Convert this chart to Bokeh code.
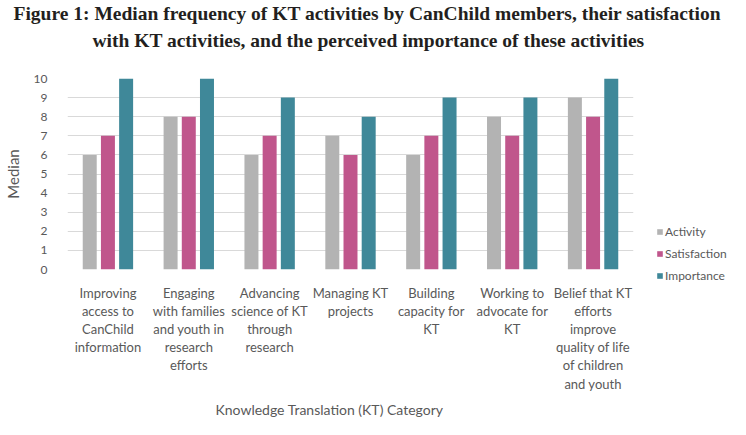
from bokeh.plotting import figure
from bokeh.models import ColumnDataSource, FixedTicker, Legend, LegendItem, Title, Range1d
from bokeh.transform import dodge
from bokeh.embed import file_html
from bokeh.resources import INLINE

title_lines = [
    "Figure 1: Median frequency of KT activities by CanChild members, their satisfaction",
    "with KT activities, and the perceived importance of these activities",
]
x_title = "Knowledge Translation (KT) Category"
y_title = "Median"
categories = [
    "Improving\naccess to\nCanChild\ninformation",
    "Engaging\nwith families\nand youth in\nresearch\nefforts",
    "Advancing\nscience of KT\nthrough\nresearch",
    "Managing KT\nprojects",
    "Building\ncapacity for\nKT",
    "Working to\nadvocate for\nKT",
    "Belief that KT\nefforts\nimprove\nquality of life\nof children\nand youth",
]
activity = [6, 8, 6, 7, 6, 8, 9]
satisfaction = [7, 8, 7, 6, 7, 7, 8]
importance = [10, 10, 9, 8, 9, 9, 10]
y_ticks = list(range(0, 11))

xs = list(range(len(categories)))
src = ColumnDataSource(dict(x=xs, activity=activity, satisfaction=satisfaction, importance=importance))

p = figure(frame_width=566, frame_height=191, output_backend="svg", toolbar_location=None,
           x_range=Range1d(-0.5, 6.5), y_range=Range1d(0, 10),
           min_border_left=64, min_border_right=100, min_border_top=75, min_border_bottom=140)
p.outline_line_color = None
p.background_fill_color = "white"

xaxis = p.below[0]
yaxis = p.left[0]

t2 = Title(text=title_lines[1], align="left", offset=25, standoff=55,
           text_font="Liberation Serif", text_font_size="19.5px",
           text_font_style="bold", text_color="#231f20")
t1 = Title(text=title_lines[0], align="left", offset=-54, standoff=-46,
           text_font="Liberation Serif", text_font_size="19.5px",
           text_font_style="bold", text_color="#231f20")
p.add_layout(t2, "above")
p.add_layout(t1, "above")

w = 0.173
r1 = p.vbar(x=dodge("x", -0.225), top="activity", width=w, source=src, fill_color="#b3b3b3", line_color=None)
r2 = p.vbar(x=dodge("x", 0.0), top="satisfaction", width=w, source=src, fill_color="#c0568c", line_color=None)
r3 = p.vbar(x=dodge("x", 0.225), top="importance", width=w, source=src, fill_color="#3f8899", line_color=None)

p.xgrid.grid_line_color = None
p.ygrid.grid_line_color = "#d9d9d9"
p.ygrid.ticker = FixedTicker(ticks=y_ticks)

xaxis.ticker = FixedTicker(ticks=xs)
xaxis.major_label_overrides = {i: c for i, c in enumerate(categories)}
yaxis.ticker = FixedTicker(ticks=y_ticks)
for ax in (xaxis, yaxis):
    ax.axis_line_color = None
    ax.major_tick_line_color = None
    ax.minor_tick_line_color = None
    ax.major_tick_out = 0
    ax.major_tick_in = 0
    ax.major_label_text_font = "Lato"
    ax.major_label_text_color = "#595959"
    ax.axis_label_text_font = "Lato"
    ax.axis_label_text_font_style = "normal"
    ax.axis_label_text_color = "#595959"
xaxis.major_label_text_font_size = "13px"
yaxis.major_label_text_font_size = "12px"
yaxis.axis_label_text_font_size = "15px"
xaxis.major_label_text_line_height = 1.14
xaxis.major_label_standoff = 15
yaxis.major_label_standoff = 20
yaxis.axis_label = y_title
yaxis.axis_label_standoff = 9

xt = Title(text=x_title, align="left", offset=148, standoff=9,
           text_font="Lato", text_font_size="14px", text_font_style="normal",
           text_color="#595959")
p.add_layout(xt, "below")

legend = Legend(items=[LegendItem(label="Activity", renderers=[r1]),
                       LegendItem(label="Satisfaction", renderers=[r2]),
                       LegendItem(label="Importance", renderers=[r3])],
                location=(23, -16), padding=0, margin=0, spacing=2,
                glyph_width=7, glyph_height=7, label_standoff=2, label_height=20,
                label_text_font="Lato", label_text_font_size="12px", label_text_color="#595959",
                border_line_color=None, background_fill_alpha=0)
p.add_layout(legend, "right")

open("out.html", "w").write(file_html(p, INLINE))
